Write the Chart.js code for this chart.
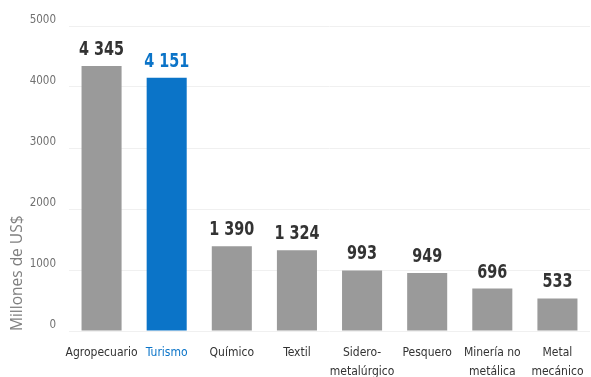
<!DOCTYPE html>
<html>
<head>
<meta charset="utf-8">
<script src="https://cdn.jsdelivr.net/npm/chart.js@4.4.1/dist/chart.umd.min.js"></script>
<style>
  html, body { margin: 0; padding: 0; background: #fff; }
  #wrap { width: 591px; height: 377px; position: relative; }
</style>
</head>
<body>
<div id="wrap"><canvas id="sectorChart"></canvas></div>
<script>
// Sectores y montos (millones de US$)
const sectores = [
    'Agropecuario', 'Turismo', 'Químico', 'Textil', ['Sidero-', 'metalúrgico'],
    'Pesquero', ['Minería no', 'metálica'], ['Metal', 'mecánico']
];
const montos = [4345, 4151, 1390, 1324, 993, 949, 696, 533];
const etiquetas = ['4 345', '4 151', '1 390', '1 324', '993', '949', '696', '533'];
const destacado = 1; // Turismo

const GRIS = '#9a9a9a';
const AZUL = '#0b74c8';
const fuenteCond = '"DejaVu Sans Condensed", "DejaVu Sans", sans-serif';

// Escribe el valor encima de cada barra (texto estrechado en horizontal)
const valoresPlugin = {
    id: 'valores',
    afterDatasetsDraw(chart) {
        const ctx = chart.ctx;
        const meta = chart.getDatasetMeta(0);
        const sx = 0.8;
        meta.data.forEach((bar, i) => {
            ctx.save();
            ctx.font = 'condensed bold 20px ' + fuenteCond;
            ctx.textAlign = 'center';
            ctx.textBaseline = 'alphabetic';
            ctx.fillStyle = i === destacado ? AZUL : '#333333';
            ctx.translate(bar.x, bar.y - 11);
            ctx.scale(sx, 1);
            ctx.fillText(etiquetas[i], 0, 0);
            ctx.restore();
        });
    }
};

const ctx = document.getElementById('sectorChart').getContext('2d');
new Chart(ctx, {
    type: 'bar',
    data: {
        labels: sectores,
        datasets: [{
            data: montos,
            backgroundColor: montos.map((v, i) => i === destacado ? AZUL : GRIS),
            barPercentage: 0.615,
            categoryPercentage: 1.0
        }]
    },
    options: {
        responsive: true,
        maintainAspectRatio: false,
        animation: false,
        layout: { padding: { top: 26, right: 1, left: 0, bottom: 0 } },
        plugins: {
            legend: { display: false },
            tooltip: { enabled: false }
        },
        scales: {
            x: {
                grid: { display: false },
                border: { display: false },
                ticks: {
                    padding: 5,
                    autoSkip: false,
                    maxRotation: 0,
                    font: { family: fuenteCond, style: 'condensed', size: 12, lineHeight: 1.55 },
                    color: (c) => c.index === destacado ? AZUL : '#333333'
                },
                afterFit(scale) { scale.height = 46; }
            },
            y: {
                min: 0,
                max: 5000,
                grid: { color: '#f0f0f0', drawTicks: false },
                border: { display: false },
                ticks: {
                    stepSize: 1000,
                    padding: 13,
                    labelOffset: -6,
                    callback: (v) => String(v),
                    font: { family: fuenteCond, style: 'condensed', size: 11.5 },
                    color: '#707070'
                },
                title: {
                    display: true,
                    text: 'Millones de US$',
                    align: 'start',
                    color: '#808080',
                    font: { family: '"Open Sans", sans-serif', size: 15.5 },
                    padding: { top: 8, bottom: 0 }
                },
                afterFit(scale) { scale.width = 69; }
            }
        }
    },
    plugins: [valoresPlugin]
});
</script>
</body>
</html>
